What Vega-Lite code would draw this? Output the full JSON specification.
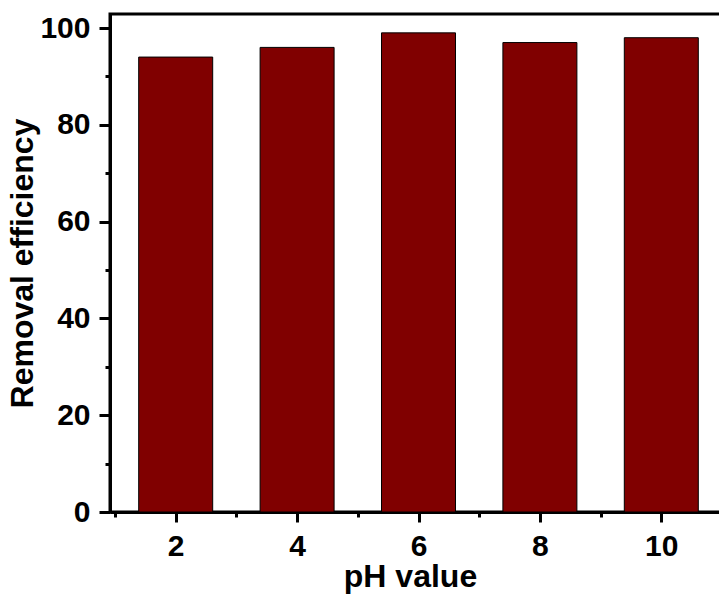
{
  "$schema": "https://vega.github.io/schema/vega-lite/v6.json",
  "autosize": {"type": "none"},
  "padding": {"left": 110, "top": 14, "right": 0, "bottom": 82},
  "width": 617,
  "height": 498,
  "background": "white",
  "config": {
    "view": {"stroke": "black", "strokeWidth": 3},
    "axis": {
      "labelFont": "Liberation Sans",
      "labelFontWeight": "bold",
      "labelFontSize": 30,
      "labelColor": "black",
      "titleFont": "Liberation Sans",
      "titleFontWeight": "bold",
      "titleFontSize": 32,
      "titleColor": "black",
      "domainColor": "black",
      "domainWidth": 3,
      "tickColor": "black",
      "tickWidth": 3,
      "grid": false
    }
  },
  "data": {
    "values": [
      {"pH": 2, "eff": 94},
      {"pH": 4, "eff": 96},
      {"pH": 6, "eff": 99},
      {"pH": 8, "eff": 97},
      {"pH": 10, "eff": 98}
    ]
  },
  "layer": [
    {
      "mark": {"type": "bar", "width": 74, "fill": "#800000", "stroke": "black", "strokeWidth": 1},
      "encoding": {
        "x": {
          "field": "pH",
          "type": "quantitative",
          "scale": {"domain": [1, 11], "nice": false, "zero": false},
          "axis": {
            "orient": "bottom",
            "title": "pH value",
            "values": [2, 4, 6, 8, 10],
            "tickSize": 10,
            "labelPadding": 9,
            "titlePadding": 0,
            "titleX": 300,
            "labelFlush": false
          }
        },
        "y": {
          "field": "eff",
          "type": "quantitative",
          "scale": {"domain": [0, 102.9], "nice": false},
          "axis": {
            "orient": "left",
            "title": "Removal efficiency",
            "values": [0, 20, 40, 60, 80, 100],
            "tickSize": 11,
            "labelPadding": 9,
            "titlePadding": 0,
            "labelFlush": false
          }
        }
      }
    },
    {
      "mark": {"type": "bar", "width": 0, "opacity": 0},
      "encoding": {
        "x": {
          "field": "pH",
          "type": "quantitative",
          "scale": {"domain": [1, 11], "nice": false, "zero": false},
          "axis": {
            "orient": "bottom",
            "title": null,
            "values": [1, 3, 5, 7, 9, 11],
            "labels": false,
            "domain": false,
            "tickSize": 5
          }
        },
        "y": {
          "field": "eff",
          "type": "quantitative",
          "scale": {"domain": [0, 102.9], "nice": false},
          "axis": {
            "orient": "left",
            "title": null,
            "values": [10, 30, 50, 70, 90],
            "labels": false,
            "domain": false,
            "tickSize": 5
          }
        }
      }
    }
  ],
  "resolve": {"axis": {"x": "independent", "y": "independent"}}
}
